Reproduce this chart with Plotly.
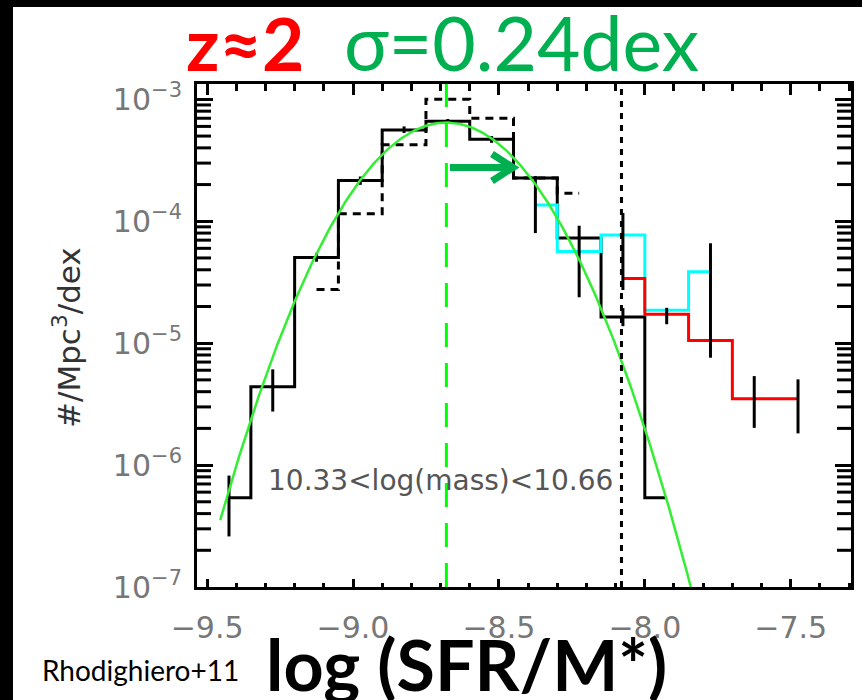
import numpy as np
import plotly.graph_objects as go

# ---- data: number density per dex in bins of log(SFR/M*) ----
black_centers = [-9.425, -9.275, -9.125, -8.975, -8.825, -8.675, -8.525, -8.375, -8.225, -8.075, -7.925]
black_phi = [5.4e-7, 4.4e-6, 5.05e-5, 2.16e-4, 5.6e-4, 6.6e-4, 4.7e-4, 2.26e-4, 7.3e-5, 1.64e-5, 5.4e-7]
black_lo = [2.6e-7, 2.75e-6, 4.66e-5, 1.99e-4, 5.3e-4, 6.3e-4, 4.4e-4, None, None, 1.38e-5, None]
black_hi = [8.2e-7, 6.1e-6, 5.5e-5, 2.33e-4, 6.0e-4, 6.9e-4, 5.0e-4, None, None, 1.94e-5, None]

dashed_centers = [-9.125, -8.975, -8.825, -8.675, -8.525, -8.375, -8.225]
dashed_phi = [2.75e-5, 1.15e-4, 4.25e-4, 1.0e-3, 7.0e-4, 2.26e-4, 1.7e-4]

cyan_centers = [-8.375, -8.225, -8.075, -7.925, -7.775]
cyan_phi = [1.36e-4, 5.65e-5, 7.7e-5, 1.86e-5, 3.85e-5]
cyan_lo = [8.0e-5, 2.38e-5, 2.73e-5, None, 7.6e-6]
cyan_hi = [2.35e-4, 9.2e-5, 1.17e-4, None, 6.6e-5]

red_centers = [-8.075, -7.925, -7.775, -7.625, -7.475]
red_phi = [3.4e-5, 1.73e-5, 1.05e-5, 3.5e-6, 3.5e-6]
red_lo = [None, 1.43e-5, None, 2.02e-6, 1.82e-6]
red_hi = [None, 1.95e-5, None, 5.37e-6, 5.05e-6]

# log-normal fit parameters
fit_mu = -8.68
fit_sigma = 0.20
fit_peak = 6.45e-4
fit_xmin, fit_xmax = -9.455, -7.80

sfr_limit = -8.08

x_tickfmt = ".1f"
y_major = [1e-7, 1e-6, 1e-5, 1e-4, 1e-3]
y_ticklabels = ["10<sup>−7</sup>", "10<sup>−6</sup>", "10<sup>−5</sup>", "10<sup>−4</sup>", "10<sup>−3</sup>"]

# ---- geometry (pixels) ----
W, H = 862, 700
PL, PR, PT, PB = 197, 851, 84, 587
XR = [-9.5346, -7.2934]
YR = [-7.0, -2.874]

y_minor = [m * d for d in y_major for m in range(2, 10) if np.log10(m * d) < YR[1]]


def px_x(px):
    return (px - PL) / (PR - PL)


def px_y(py):
    return (PB - py) / (PB - PT)


def err_trace(xs, ys, lo, hi, color="black"):
    pts = [(x, y, l, h) for x, y, l, h in zip(xs, ys, lo, hi) if l is not None]
    return go.Scatter(
        x=[p[0] for p in pts], y=[p[1] for p in pts], mode="markers",
        marker=dict(size=1, color="rgba(0,0,0,0)"),
        error_y=dict(type="data", symmetric=False,
                     array=[p[3] - p[1] for p in pts],
                     arrayminus=[p[1] - p[2] for p in pts],
                     color=color, thickness=3, width=0),
        hoverinfo="skip", showlegend=False)


fig = go.Figure()

fig.add_trace(go.Scatter(x=dashed_centers, y=dashed_phi, mode="lines", line_shape="hvh",
                         line=dict(color="black", width=3, dash="8px,6px"), showlegend=False))
fig.add_trace(go.Scatter(x=black_centers, y=black_phi, mode="lines", line_shape="hvh",
                         line=dict(color="black", width=3), showlegend=False))
fig.add_trace(go.Scatter(x=cyan_centers, y=cyan_phi, mode="lines", line_shape="hvh",
                         line=dict(color="#00FFFF", width=3), showlegend=False))
fig.add_trace(go.Scatter(x=red_centers, y=red_phi, mode="lines", line_shape="hvh",
                         line=dict(color="#FF0000", width=3), showlegend=False))

fig.add_trace(err_trace(black_centers, black_phi, black_lo, black_hi))
fig.add_trace(err_trace(cyan_centers, cyan_phi, cyan_lo, cyan_hi))
fig.add_trace(err_trace(red_centers, red_phi, red_lo, red_hi))

# log-normal fit curve
xf = np.linspace(fit_xmin, fit_xmax, 300)
yf = fit_peak * np.exp(-(xf - fit_mu) ** 2 / (2 * fit_sigma ** 2))
fig.add_trace(go.Scatter(x=xf, y=yf, mode="lines", line=dict(color="#33EE33", width=2.5),
                         showlegend=False))

# minor decade ticks (2..9) on both frame edges, clipped to the plot area
n_minor = len(y_minor)
fig.add_trace(go.Scatter(
    x=[XR[0]] * n_minor + [XR[1]] * n_minor, y=y_minor + y_minor, mode="markers",
    marker=dict(symbol="line-ew-open", size=20, color="black", line=dict(color="black", width=3)),
    cliponaxis=True, hoverinfo="skip", showlegend=False))

# companion trace so the mirrored top/right axes are laid out
fig.add_trace(go.Scatter(x=[fit_mu], y=[fit_peak], xaxis="x2", yaxis="y2", mode="markers",
                         marker=dict(size=1, color="rgba(0,0,0,0)"), hoverinfo="skip",
                         showlegend=False))

tick_font = dict(family="DejaVu Sans", size=30, color="#777777")
common = dict(showline=True, linewidth=3, linecolor="black", showgrid=False, zeroline=False,
              ticks="inside", tickwidth=3, tickcolor="black")

fig.update_layout(
    width=W, height=H,
    margin=dict(l=PL, r=W - PR, t=PT, b=H - PB, pad=0),
    paper_bgcolor="white", plot_bgcolor="white",
    xaxis=dict(range=XR, dtick=0.5, tick0=-9.5, ticklen=8, tickformat=x_tickfmt,
               tickfont=tick_font, ticklabelstandoff=12,
               minor=dict(dtick=0.1, tick0=-9.5, ticks="inside", ticklen=4, tickwidth=3,
                          tickcolor="black", showgrid=False),
               **common),
    xaxis2=dict(range=XR, overlaying="x", side="top", anchor="y", dtick=0.5, tick0=-9.5,
                ticklen=11, showticklabels=False,
                minor=dict(dtick=0.1, tick0=-9.5, ticks="inside", ticklen=7, tickwidth=3,
                           tickcolor="black", showgrid=False),
                **common),
    yaxis=dict(type="log", range=YR, tickmode="array", tickvals=y_major, ticktext=y_ticklabels,
               ticklen=16, tickfont=tick_font, ticklabelstandoff=6, **common),
    yaxis2=dict(type="log", range=YR, overlaying="y", side="right", anchor="x2",
                tickmode="array", tickvals=y_major, ticklen=16, showticklabels=False,
                **common),
    showlegend=False,
)

# vertical reference lines
fig.add_shape(type="line", xref="x", yref="paper", x0=fit_mu, x1=fit_mu, y0=0, y1=1,
              line=dict(color="#00FF00", width=3, dash="24px,16px"))
fig.add_shape(type="line", xref="x", yref="paper", x0=sfr_limit, x1=sfr_limit, y0=0, y1=1,
              line=dict(color="black", width=3, dash="6px,6px"))

# shift arrow
arrow_path = (f"M {px_x(450)},{px_y(167.5)} L {px_x(511)},{px_y(167.5)} "
              f"M {px_x(492)},{px_y(154)} L {px_x(513)},{px_y(167.5)} L {px_x(492)},{px_y(181)}")
fig.add_shape(type="path", xref="paper", yref="paper", path=arrow_path,
              line=dict(color="#00B050", width=7))

# black frame strips on the left and top edges
fig.add_shape(type="rect", xref="paper", yref="paper", x0=px_x(0), x1=px_x(13),
              y0=px_y(H), y1=px_y(0), fillcolor="black", line=dict(width=0))
fig.add_shape(type="rect", xref="paper", yref="paper", x0=px_x(0), x1=px_x(W),
              y0=px_y(7), y1=px_y(0), fillcolor="black", line=dict(width=0))

ann = [
    dict(text="<b>z≈2</b>", x=px_x(184), xanchor="left", y=px_y(89), yanchor="bottom",
         font=dict(family="Lato", size=73, color="#FF0000")),
    dict(text="σ=0.24dex", x=px_x(342), xanchor="left", y=px_y(89), yanchor="bottom",
         font=dict(family="Lato", size=75, color="#00B050")),
    dict(text="Rhodighiero+11", x=px_x(40), xanchor="left", y=px_y(689), yanchor="bottom",
         font=dict(family="Lato", size=28, color="black")),
    dict(text="<b>log (SFR/M*)</b>", x=px_x(466), xanchor="center", y=px_y(620), yanchor="top",
         font=dict(family="Lato", size=70, color="black")),
    dict(text="#/Mpc<sup>3</sup>/dex", x=px_x(67), xanchor="center", y=px_y(338),
         yanchor="middle", textangle=-90,
         font=dict(family="DejaVu Sans", size=31, color="#333333")),
    dict(text="10.33<log(mass)<10.66", x=px_x(266), xanchor="left", y=px_y(480),
         yanchor="middle", font=dict(family="DejaVu Sans", size=28, color="#555555")),
]
for a in ann:
    fig.add_annotation(xref="paper", yref="paper", showarrow=False, **a)

fig.write_html("out.html")
